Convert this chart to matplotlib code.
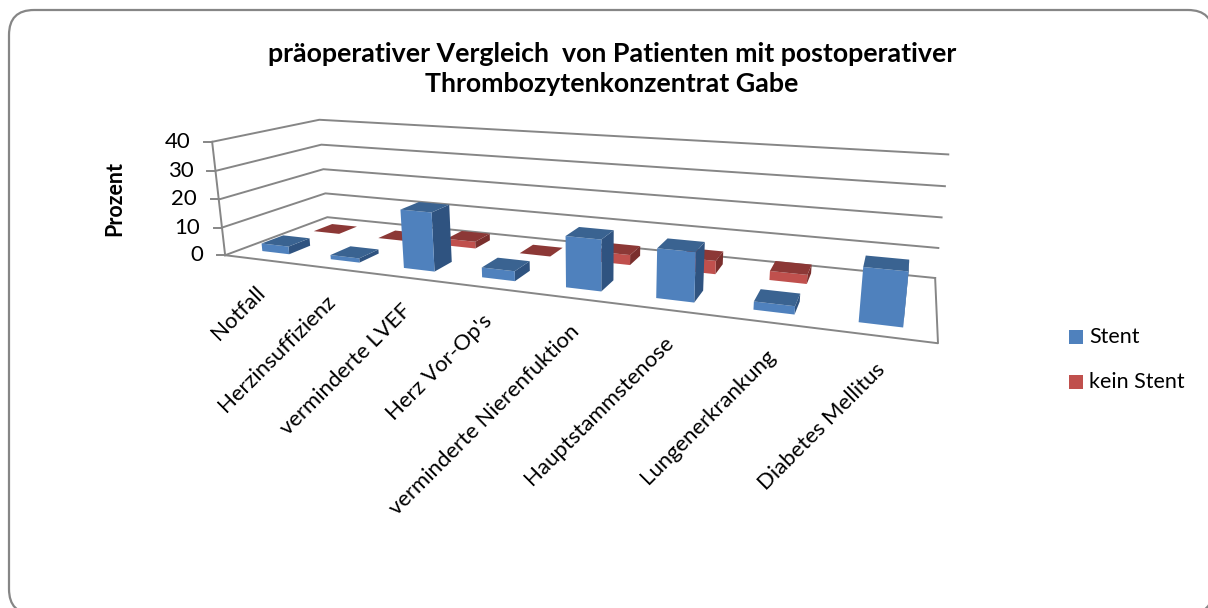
import numpy as np
import matplotlib
matplotlib.use("Agg")
import matplotlib.pyplot as plt
from matplotlib.patches import FancyBboxPatch, Polygon, Rectangle

plt.rcParams['font.family'] = ['Lato', 'DejaVu Sans']

categories = ["Notfall", "Herzinsuffizienz", "verminderte LVEF", "Herz Vor-Op's",
              "verminderte Nierenfuktion", "Hauptstammstenose", "Lungenerkrankung",
              "Diabetes Mellitus"]
stent = [2.8, 1.5, 20, 3.3, 16.5, 15.5, 2.5, 16]
kein_stent = [0, 0, 2.5, 0, 3.5, 4.5, 3, 0]
z_ticks = [0, 10, 20, 30, 40]
title = "präoperativer Vergleich  von Patienten mit postoperativer\nThrombozytenkonzentrat Gabe"

GRID = "#868686"
BLUE = ("#4F81BD", "#3A6391", "#2F5380")
RED = ("#C0504D", "#8C3836", "#7A2F2D")

# axis corners (x, depth, z) -> where they land in the picture, used to fit the camera
calib = [((0, 0, 0), (226, 255.7)), ((0, 1, 0), (327, 217)), ((8, 0, 0), (938, 343)),
         ((8, 1, 0), (935, 278)), ((0, 0, 40), (212, 142)), ((0, 1, 40), (320, 120)),
         ((8, 1, 40), (948, 154)), ((8, 1, 20), (942, 218)), ((0, 1, 20), (323, 169)),
         ((0, 0, 20), (218, 199))]


def fit_camera(points):
    rows, rhs = [], []
    for (x, d, z), (u, v) in points:
        rows.append([x, d, z, 1, 0, 0, 0, 0, -u * x, -u * d, -u * z])
        rows.append([0, 0, 0, 0, x, d, z, 1, -v * x, -v * d, -v * z])
        rhs += [u, v]
    m = np.linalg.lstsq(np.array(rows, float), np.array(rhs, float), rcond=None)[0]
    return np.append(m, 1).reshape(3, 4)


P = fit_camera(calib)


def proj(x, d, z):
    u, v, w = P @ np.array([x, d, z, 1.0])
    return u / w, v / w


def draw_bar(ax, i, d0, d1, val, cols, width=0.4):
    x0 = i + (1 - width) / 2
    x1 = x0 + width
    if val > 0:
        # side, top, front
        ax.add_patch(Polygon([proj(x1, d0, 0), proj(x1, d1, 0), proj(x1, d1, val), proj(x1, d0, val)],
                             fc=cols[2], ec="none", zorder=3))
        ax.add_patch(Polygon([proj(x0, d0, 0), proj(x1, d0, 0), proj(x1, d0, val), proj(x0, d0, val)],
                             fc=cols[0], ec="none", zorder=3))
    ax.add_patch(Polygon([proj(x0, d0, val), proj(x1, d0, val), proj(x1, d1, val), proj(x0, d1, val)],
                         fc=cols[1], ec="none", zorder=3))


fig = plt.figure(figsize=(12.08, 6.08), dpi=100)
ax = fig.add_axes([0, 0, 1, 1])
ax.set_xlim(0, 1208)
ax.set_ylim(608, 0)
ax.axis("off")

ax.add_patch(FancyBboxPatch((9, 10), 1204, 604, boxstyle="round,pad=0,rounding_size=25",
                            fc="white", ec=GRID, lw=1.6, zorder=0, clip_on=True))

# walls and floor
for z in z_ticks:
    pts = [proj(0, 0, z), proj(0, 1, z), proj(8, 1, z)]
    ax.plot(*zip(*pts), color=GRID, lw=1.4, zorder=1)
    u, v = proj(0, 0, z)
    ax.plot([u - 8, u], [v, v], color=GRID, lw=1.4, zorder=1)
    ax.text(u - 22, v, str(z), ha="right", va="center", fontsize=16, color="black")
ax.plot(*zip(proj(0, 0, 0), proj(0, 0, 40)), color=GRID, lw=1.4, zorder=1)
ax.plot(*zip(proj(0, 0, 0), proj(8, 0, 0), proj(8, 1, 0)), color=GRID, lw=1.4, zorder=1)

# back row first so the front row covers it
for i, val in enumerate(kein_stent):
    draw_bar(ax, i, 0.65, 0.85, val, RED)
for i, val in enumerate(stent):
    draw_bar(ax, i, 0.15, 0.35, val, BLUE)

for i, name in enumerate(categories):
    u, v = proj(i + 0.5, 0, 0)
    ax.text(u - 4, v + 23, name, rotation=45, ha="right", va="top", rotation_mode="anchor",
            fontsize=15.9, color="black")

ax.text(612, 69, title, ha="center", va="center", fontsize=19.3, fontweight="bold", linespacing=1.32)
ax.text(115, 198, "Prozent", rotation=90, ha="center", va="center", fontsize=15.5, fontweight="bold")

for y, col, name in [(337, BLUE[0], "Stent"), (382, RED[0], "kein Stent")]:
    ax.add_patch(Rectangle((1069, y - 7), 14, 14, fc=col, ec="none"))
    ax.text(1089, y, name, ha="left", va="center", fontsize=15.5, color="black")

fig.savefig("out.png", dpi=100)
